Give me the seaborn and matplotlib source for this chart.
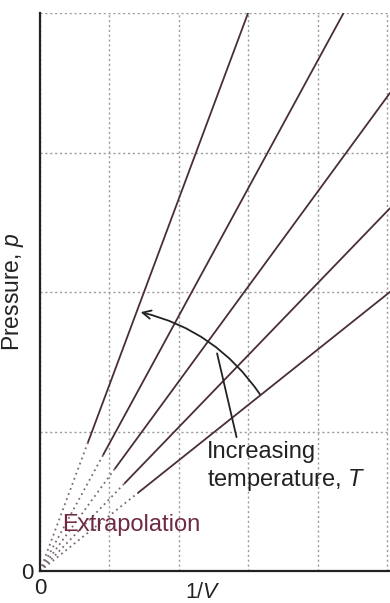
import matplotlib
matplotlib.use("Agg")
import matplotlib.pyplot as plt
import seaborn as sns
import pandas as pd
import numpy as np

# ---- data ----
series_names = ["T1", "T2", "T3", "T4", "T5"]
slopes = [1.335, 0.915, 0.68, 0.516, 0.397]          # p per unit 1/V
start_x = [0.69, 0.91, 1.08, 1.22, 1.41]             # where measured data begins
x_ticks = [0, 1, 2, 3, 4, 5]
x_tick_labels = ["0", "", "", "", "", ""]
y_ticks = [0, 1, 2, 3, 4]
y_tick_labels = ["0", "", "", "", ""]
arrow_start = (3.19, 1.25)
arrow_end = (1.41, 1.86)
pointer_from = (2.83, 0.96)
pointer_to = (2.55, 1.56)

XMAX, YMAX = 5.04, 4.0

sns.set_theme(style="white")
plt.rcParams["font.family"] = ["Liberation Sans", "DejaVu Sans"]
plt.rcParams["mathtext.fontset"] = "custom"
plt.rcParams["mathtext.it"] = "Liberation Sans:italic"
plt.rcParams["mathtext.rm"] = "Liberation Sans"

fig = plt.figure(figsize=(3.9, 6.03), dpi=100)
ax = fig.add_axes([40 / 390, 32 / 603, 350 / 390, 558 / 603])

line_color = "#4a2e36"
rows_solid, rows_dot = [], []
for name, k, x0 in zip(series_names, slopes, start_x):
    x1 = min(XMAX, YMAX / k)
    for x in (x0, x1):
        rows_solid.append({"x": x, "p": k * x, "s": name})
    for x in (0.0, x0):
        rows_dot.append({"x": x, "p": k * x, "s": name})
df_solid = pd.DataFrame(rows_solid)
df_dot = pd.DataFrame(rows_dot)

pal = {n: line_color for n in series_names}
sns.lineplot(data=df_solid, x="x", y="p", hue="s", palette=pal, ax=ax,
             legend=False, linewidth=1.3, estimator=None, sort=False)
sns.lineplot(data=df_dot, x="x", y="p", hue="s", palette={n: "#7d6a70" for n in series_names},
             ax=ax, legend=False, linewidth=1.3, linestyle=(0, (1, 2)), estimator=None, sort=False)

ax.set_xlim(0, XMAX)
ax.set_ylim(0, YMAX)
ax.set_xticks(x_ticks)
ax.set_xticklabels(x_tick_labels)
ax.set_yticks(y_ticks)
ax.set_yticklabels(y_tick_labels)
ax.tick_params(length=0, labelsize=16, colors="#222222")
ax.tick_params(axis="x", pad=5)
ax.tick_params(axis="y", pad=5)
ax.grid(True, linestyle=(0, (1.5, 2)), color="#9a9a9a", linewidth=1.0)
ax.set_axisbelow(True)
for s in ("top", "right"):
    ax.spines[s].set_visible(False)
for s in ("left", "bottom"):
    ax.spines[s].set_color("#222222")
    ax.spines[s].set_linewidth(1.6)

ax.set_xlabel("1/$\\it{V}$", fontsize=15.5, color="#222222")
ax.xaxis.set_label_coords(0.465, -0.019)
ax.set_ylabel("Pressure, $\\it{p}$", fontsize=16.5, color="#222222")
ax.yaxis.set_label_coords(-0.04, 0.5)

# curved arrow
ax.annotate("", xy=arrow_end, xytext=arrow_start,
            arrowprops=dict(arrowstyle="->,head_length=0.5,head_width=0.25",
                            connectionstyle="arc3,rad=0.2", color="#222222", lw=1.3))
ax.plot([pointer_from[0], pointer_to[0]], [pointer_from[1], pointer_to[1]],
        color="#222222", lw=1.3)

ax.text(2.41, 0.85, "Increasing", fontsize=17, color="#222222", va="center", ha="left")
ax.text(2.41, 0.65, "temperature, $\\it{T}$", fontsize=17, color="#222222", va="center", ha="left")
ax.text(0.32, 0.33, "Extrapolation", fontsize=17, color="#6e2a45", va="center", ha="left")

fig.savefig("out.png", dpi=100, facecolor="white")
